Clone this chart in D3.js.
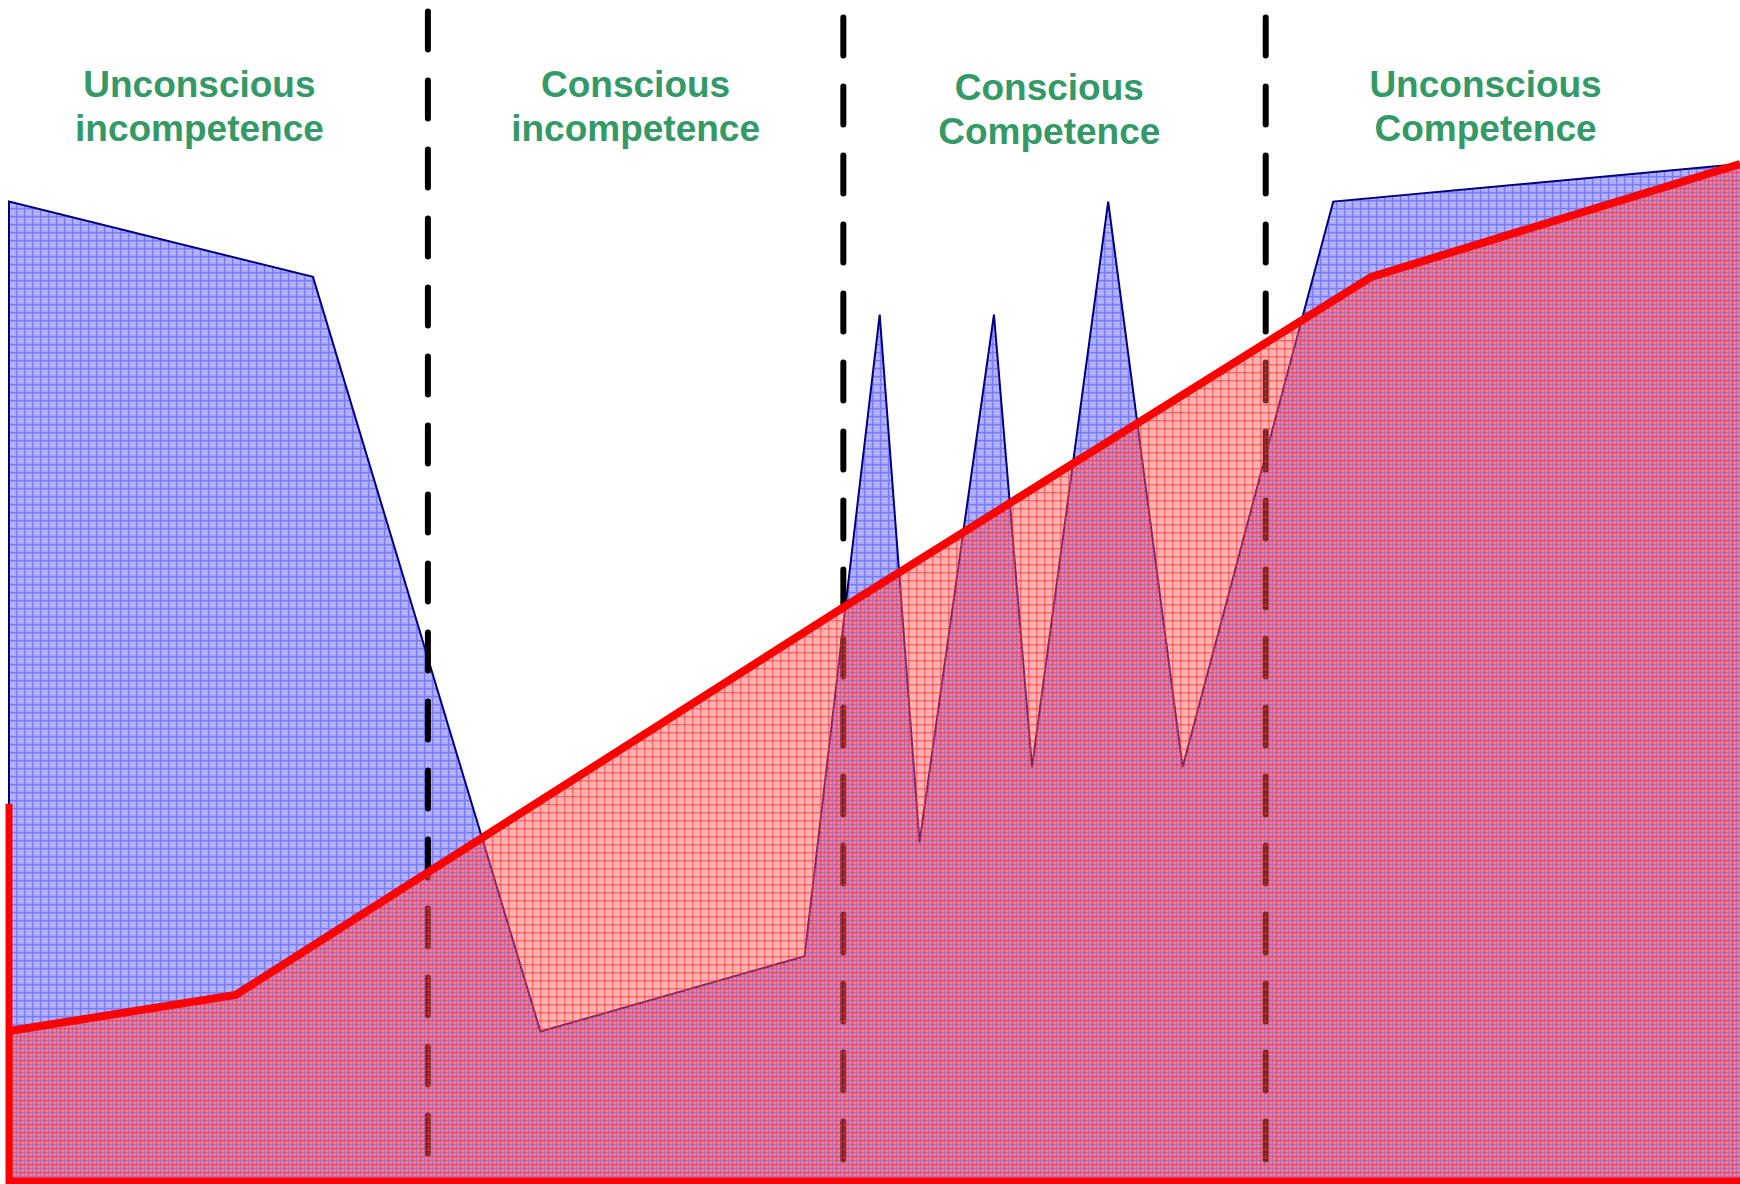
<!DOCTYPE html>
<html>
<head>
<meta charset="utf-8">
<script src="https://cdn.jsdelivr.net/npm/d3@7"></script>
<style>
html,body{margin:0;padding:0;background:#fff;}
svg{display:block;}
</style>
</head>
<body>
<svg id="chart" width="1740" height="1184"></svg>
<script>
// ---- data (time on a 0–100 scale, level on a 0–100 scale) ----
const blueX = [0, 17.56, 30.7, 45.96, 50.3, 52.6, 56.9, 59.1, 63.5, 67.8, 76.5, 100];
const blueY = [96.3, 88.9, 14.7, 22.1, 85.2, 33.3, 85.2, 40.7, 96.3, 40.7, 96.3, 100];
const redX = [0, 13.1, 48.2, 78.7, 100];
const redY = [14.75, 18.3, 56.4, 88.9, 100];
const axisTop = 37.1;
const dividerX = [24.2, 48.2, 72.6];
const dividerTop = [115.0, 114.4, 114.4];
const dividerBottom = 1.7;
const stageLine1 = ["Unconscious", "Conscious", "Conscious", "Unconscious"];
const stageLine2 = ["incompetence", "incompetence", "Competence", "Competence"];
const stageX = [11.0, 36.2, 60.1, 85.3];
const stageBaseline = [97, 97, 100, 97];

const svg = d3.select("#chart");
const x = d3.scaleLinear().domain([0, 100]).range([9, 1740]);
const y = d3.scaleLinear().domain([0, 100]).range([1181, 164]);

// ---- patterns ----
const defs = svg.append("defs");
const bp = defs.append("pattern").attr("id", "bluePat").attr("patternUnits", "userSpaceOnUse")
  .attr("width", 8).attr("height", 8);
bp.append("rect").attr("width", 8).attr("height", 8).attr("fill", "#aaaaff");
[[2,2],[5,5],[2,5],[5,2]].forEach(p => bp.append("rect").attr("x", p[0]).attr("y", p[1])
  .attr("width", 1).attr("height", 1).attr("fill", "#e4e4ff"));
bp.append("rect").attr("x", 0).attr("y", 0).attr("width", 1.5).attr("height", 8).attr("fill", "#7c7cff");
bp.append("rect").attr("x", 0).attr("y", 0).attr("width", 8).attr("height", 1.5).attr("fill", "#7c7cff");

const rp = defs.append("pattern").attr("id", "redPat").attr("patternUnits", "userSpaceOnUse")
  .attr("width", 8).attr("height", 8);
rp.append("rect").attr("width", 8).attr("height", 8).attr("fill", "#ff5050").attr("fill-opacity", 0.45);
[[1,1],[6,6],[1,6],[6,1]].forEach(p => rp.append("rect").attr("x", p[0]).attr("y", p[1])
  .attr("width", 1).attr("height", 1).attr("fill", "#ffffff").attr("fill-opacity", 0.35));
rp.append("rect").attr("x", 4).attr("y", 0).attr("width", 1.5).attr("height", 8).attr("fill", "#ff2a2a").attr("fill-opacity", 0.5);
rp.append("rect").attr("x", 0).attr("y", 4).attr("width", 8).attr("height", 1.5).attr("fill", "#ff2a2a").attr("fill-opacity", 0.5);

// ---- blue area ----
const blueData = blueX.map((v, i) => [v, blueY[i]]);
const redData = redX.map((v, i) => [v, redY[i]]);

const area = d3.area().x(d => x(d[0])).y0(y(0)).y1(d => y(d[1]));
const line = d3.line().x(d => x(d[0])).y(d => y(d[1]));

svg.append("path").attr("d", area(blueData)).attr("fill", "url(#bluePat)");
svg.append("path").attr("d", line([[0, 0]].concat(blueData)))
  .attr("fill", "none").attr("stroke", "#000080").attr("stroke-width", 2).attr("stroke-linejoin", "miter");

// ---- dividers ----
svg.selectAll("line.divider").data(dividerX).enter().append("line")
  .attr("class", "divider")
  .attr("x1", d => x(d)).attr("x2", d => x(d))
  .attr("y1", (d, i) => y(dividerTop[i])).attr("y2", y(dividerBottom))
  .attr("stroke", "#000").attr("stroke-width", 6)
  .attr("stroke-linecap", "round").attr("stroke-dasharray", "38 31");

// ---- red area and line ----
svg.append("path").attr("d", area(redData)).attr("fill", "url(#redPat)");
svg.append("path").attr("d", line(redData))
  .attr("fill", "none").attr("stroke", "#ff0000").attr("stroke-width", 8).attr("stroke-linejoin", "miter");
svg.append("path").attr("d", line([[0, axisTop], [0, 0], [100, 0]]))
  .attr("fill", "none").attr("stroke", "#ff0000").attr("stroke-width", 7);

// ---- stage labels ----
const labels = svg.selectAll("text.stage").data(stageX).enter().append("text")
  .attr("class", "stage")
  .attr("text-anchor", "middle")
  .attr("font-family", "'Liberation Sans', Arial, sans-serif")
  .attr("font-weight", "bold").attr("font-size", 37)
  .attr("fill", "#339966");
labels.append("tspan").attr("x", d => x(d)).attr("y", (d, i) => stageBaseline[i]).text((d, i) => stageLine1[i]);
labels.append("tspan").attr("x", d => x(d)).attr("y", (d, i) => stageBaseline[i] + 44).text((d, i) => stageLine2[i]);
</script>
</body>
</html>
